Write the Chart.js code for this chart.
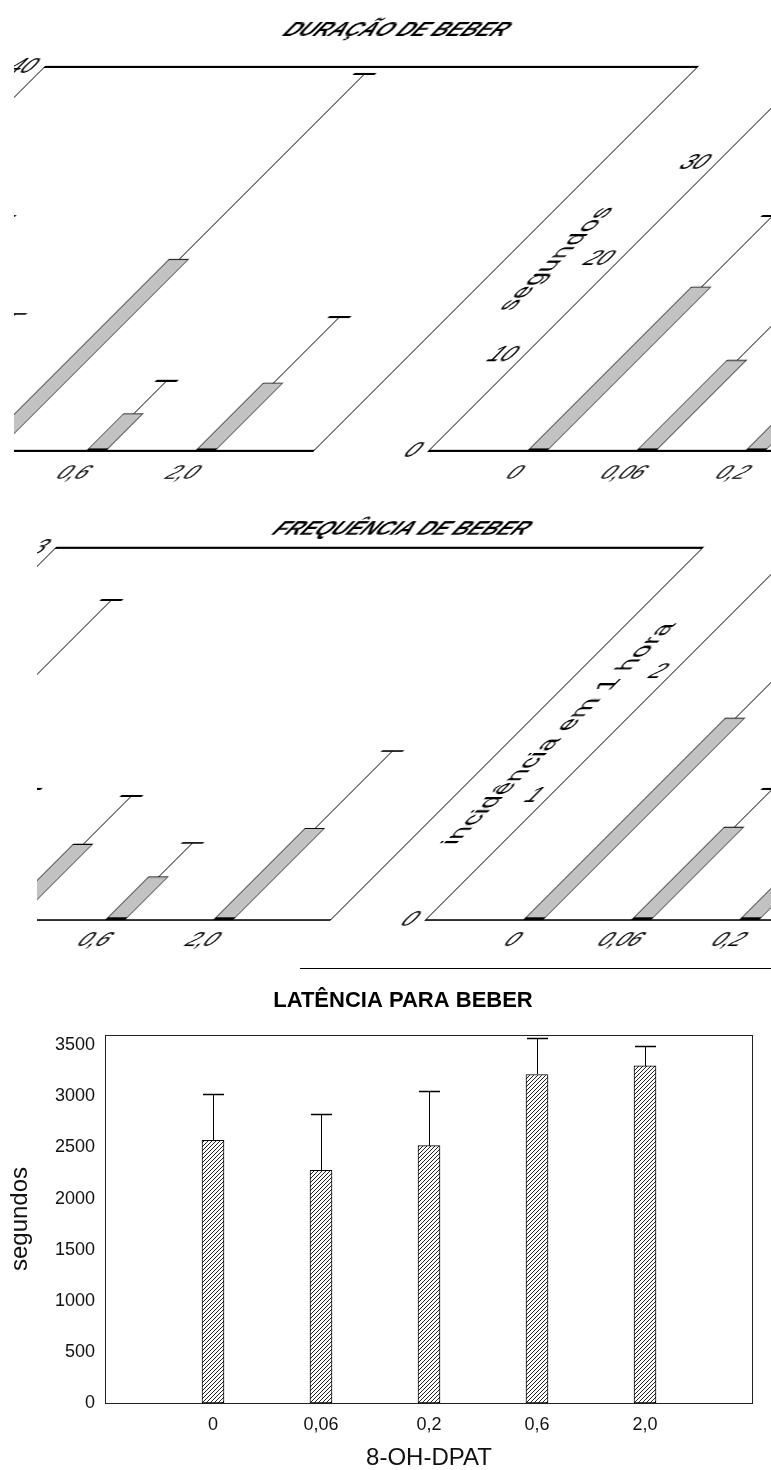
<!DOCTYPE html>
<html><head><meta charset="utf-8">
<script src="https://cdn.jsdelivr.net/npm/chart.js@4.4.1/dist/chart.umd.min.js"></script>
<style>
html,body{margin:0;padding:0;background:#fff;overflow:hidden;}
body{width:771px;height:1470px;position:relative;}
.panel{position:absolute;overflow:hidden;}
.copy{position:absolute;top:0;}
.copy canvas{display:block;image-rendering:pixelated;}
#c3{display:block;}
#sep{position:absolute;left:300px;top:968px;width:471px;height:0;border-top:1.5px solid #000;}
#p3{position:absolute;left:0;top:965px;}
</style></head><body>
<div id="p1" class="panel" style="left:14px;top:0;width:757px;height:490px"></div>
<div id="p2" class="panel" style="left:37px;top:500px;width:734px;height:465px"></div>
<div id="sep"></div>
<div id="p3"><canvas id="c3" width="806" height="505"></canvas></div>
<script>
// ---------- data ----------
const categories = ['0', '0,06', '0,2', '0,6', '2,0'];

// DURAÇÃO DE BEBER (segundos)
const durMean   = [17.1, 9.5, 20.0, 3.9, 7.1];
const durErrTop = [24.5, 14.3, 39.3, 7.3, 14.0];
const durTicks  = [0, 10, 20, 30, 40];

// FREQUÊNCIA DE BEBER (incidência em 1 hora)
const freqMean   = [1.63, 0.75, 0.61, 0.35, 0.74];
const freqErrTop = [2.58, 1.06, 1.00, 0.62, 1.36];
const freqTicks  = [0, 1, 2, 3];

// LATÊNCIA PARA BEBER (segundos)
const latMean   = [2570, 2275, 2518, 3214, 3299];
const latErrTop = [3020, 2826, 3056, 3570, 3495];
const latTicks  = [0, 500, 1000, 1500, 2000, 2500, 3000, 3500];

// ---------- helpers ----------
const FONT = '"Liberation Sans", Arial, sans-serif';
Chart.defaults.font.family = FONT;
Chart.defaults.color = '#000';
Chart.defaults.animation = false;

const pad = arr => [null, ...arr, null];
const xLabels = ['', ...categories, ''];

// vertical 1px stripes: after the 45° shear they become a fine checker stipple
function stipple(){
  const c = document.createElement('canvas'); c.width = 2; c.height = 2;
  const g = c.getContext('2d');
  g.fillStyle = '#f7f7f7'; g.fillRect(0,0,2,2);
  g.fillStyle = '#8c8c8c'; g.fillRect(0,0,1,2);
  return g.createPattern(c, 'repeat');
}
function hatch(){
  const c = document.createElement('canvas'); c.width = 4; c.height = 4;
  const g = c.getContext('2d');
  g.fillStyle = '#fff'; g.fillRect(0,0,4,4);
  g.strokeStyle = '#222'; g.lineWidth = 1;
  g.beginPath();
  g.moveTo(0,4); g.lineTo(4,0);
  g.moveTo(-1,1); g.lineTo(1,-1);
  g.moveTo(3,5); g.lineTo(5,3);
  g.stroke();
  return g.createPattern(c, 'repeat');
}
// box around the plotting area: horizontal edges hv px, vertical edges 1px (crisp)
const framePlugin = {
  id: 'frame',
  beforeDatasetsDraw(chart, args, o){
    const a = chart.chartArea, ctx = chart.ctx;
    const l = Math.round(a.left) + 0.5, r = Math.round(a.right) - 0.5;
    const t = Math.round(a.top), b = Math.round(a.bottom);
    ctx.save(); ctx.strokeStyle = o.color;
    ctx.lineWidth = 1;
    ctx.beginPath(); ctx.moveTo(l, t); ctx.lineTo(l, b); ctx.moveTo(r, t); ctx.lineTo(r, b); ctx.stroke();
    ctx.lineWidth = o.hw;
    const off = (o.hw % 2) ? 0.5 : 0;
    ctx.beginPath();
    ctx.moveTo(l - 0.5, t + off); ctx.lineTo(r + 0.5, t + off);
    ctx.moveTo(l - 0.5, b + off); ctx.lineTo(r + 0.5, b + off);
    ctx.stroke();
    ctx.restore();
  }
};
function errorBarPlugin(tops, capW, capLW){
  return {
    id: 'errBars',
    afterDatasetsDraw(chart){
      const ctx = chart.ctx, ys = chart.scales.y;
      const meta = chart.getDatasetMeta(0);
      ctx.save(); ctx.strokeStyle = '#000';
      meta.data.forEach((el, i) => {
        const v = tops[i];
        if (v == null || el.skip) return;
        const x = Math.round(el.x) + 0.5;
        const yt = Math.round(ys.getPixelForValue(v));
        ctx.lineWidth = 1;
        ctx.beginPath(); ctx.moveTo(x, Math.round(el.y)); ctx.lineTo(x, yt); ctx.stroke();
        ctx.lineWidth = capLW;
        const o = (capLW % 2) ? 0.5 : 0;
        ctx.beginPath(); ctx.moveTo(x - capW/2, yt + o); ctx.lineTo(x + capW/2, yt + o); ctx.stroke();
      });
      ctx.restore();
    }
  };
}
const plainTick = v => String(v);

function skewConfig(p){
  return {
    type: 'bar',
    data: { labels: xLabels, datasets: [{
      data: pad(p.mean), backgroundColor: stipple(), borderColor: '#000',
      borderWidth: { top: 1, left: 1, right: 1, bottom: 3 }, barThickness: 20, borderSkipped: false }] },
    options: {
      responsive: false, animation: false, devicePixelRatio: 1,
      layout: { padding: 0 },
      plugins: {
        legend: { display: false }, tooltip: { enabled: false },
        title: { display: true, text: p.title, color: '#000',
          font: { size: 21, weight: 'bold' }, padding: { top: p.tpt, bottom: p.tpb } },
        frame: { hw: 2, color: '#000' }
      },
      scales: {
        x: { type: 'category', offset: false,
          grid: { display: false, drawTicks: false }, border: { display: false },
          ticks: { font: { size: 21 }, padding: p.xpad, maxRotation: 0, autoSkip: false, color: '#000' },
          afterFit(s){ s.height = p.xh; } },
        y: { min: p.ticks[0], max: p.ticks[p.ticks.length-1],
          grid: { display: false, drawTicks: false }, border: { display: false },
          afterBuildTicks(s){ s.ticks = p.ticks.map(v => ({ value: v })); },
          ticks: { font: { size: 22 }, padding: 9, color: '#000', callback: plainTick },
          title: { display: true, text: p.ytitle, color: '#000', font: { size: 24 }, padding: { top: p.ytpt, bottom: 0 } },
          afterFit(s){ s.width = p.yw; } },
        y2: { position: 'right', grid: { display: false, drawTicks: false }, border: { display: false },
          ticks: { display: false }, afterFit(s){ s.width = p.y2w; } }
      }
    },
    plugins: [framePlugin, errorBarPlugin(pad(p.err), 22, 2)]
  };
}

function mountSkew(panelId, p){
  const panel = document.getElementById(panelId);
  [0, -p.period].forEach(off => {
    const d = document.createElement('div');
    d.className = 'copy';
    d.style.left = (p.canvasLeft - p.clipLeft + off) + 'px';
    d.style.width = p.width + 'px'; d.style.height = p.height + 'px';
    d.style.transform = 'skewX(-45deg)';
    d.style.transformOrigin = '0 ' + p.originY + 'px';
    const c = document.createElement('canvas');
    c.width = p.width; c.height = p.height;
    d.appendChild(c); panel.appendChild(d);
    new Chart(c, skewConfig(p));
  });
}

mountSkew('p1', {
  title: 'DURAÇÃO DE BEBER', ytitle: 'segundos',
  mean: durMean, err: durErrTop, ticks: durTicks,
  canvasLeft: 320, clipLeft: 14, period: 768, width: 848, height: 490, originY: 451,
  yw: 108, y2w: 86, ytpt: 29.6, tpt: 17.4, tpb: 24.4, xh: 39, xpad: 9.4
});
mountSkew('p2', {
  title: 'FREQUÊNCIA DE BEBER', ytitle: 'incidência em 1 hora',
  mean: freqMean, err: freqErrTop, ticks: freqTicks,
  canvasLeft: 320, clipLeft: 37, period: 742, width: 866, height: 465, originY: 420,
  yw: 105, y2w: 113, ytpt: 38.6, tpt: 16.4, tpb: 6.4, xh: 45, xpad: 7.4
});

new Chart(document.getElementById('c3'), {
  type: 'bar',
  data: { labels: xLabels, datasets: [{
    data: pad(latMean), backgroundColor: hatch(), borderColor: '#000',
    borderWidth: 1, barThickness: 22, borderSkipped: false }] },
  options: {
    responsive: false, animation: false, devicePixelRatio: 1,
    layout: { padding: 0 },
    plugins: {
      legend: { display: false }, tooltip: { enabled: false },
      title: { display: true, text: 'LATÊNCIA PARA BEBER', color: '#000',
        font: { size: 22, weight: 'bold' }, padding: { top: 22.8, bottom: 20.8 } },
      frame: { hw: 1, color: '#222' }
    },
    scales: {
      x: { type: 'category', offset: false,
        grid: { display: false, drawTicks: false }, border: { display: false },
        ticks: { font: { size: 18 }, padding: 11, maxRotation: 0, autoSkip: false, color: '#111' },
        title: { display: true, text: '8-OH-DPAT', color: '#111', font: { size: 24, lineHeight: 1 }, padding: { top: 0, bottom: 0 } },
        afterFit(s){ s.height = 67; } },
      y: { min: 0, max: 3600,
        grid: { display: false, drawTicks: false }, border: { display: false },
        afterBuildTicks(s){ s.ticks = latTicks.map(v => ({ value: v })); },
        ticks: { font: { size: 18 }, padding: 10, color: '#111', callback: plainTick },
        title: { display: true, text: 'segundos', color: '#111', font: { size: 24 }, padding: { top: 5.6, bottom: 0 } },
        afterFit(s){ s.width = 105; } },
      y2: { position: 'right', grid: { display: false, drawTicks: false }, border: { display: false },
        ticks: { display: false }, afterFit(s){ s.width = 53; } }
    }
  },
  plugins: [framePlugin, errorBarPlugin(pad(latErrTop), 21, 1.5)]
});
</script>
</body></html>
